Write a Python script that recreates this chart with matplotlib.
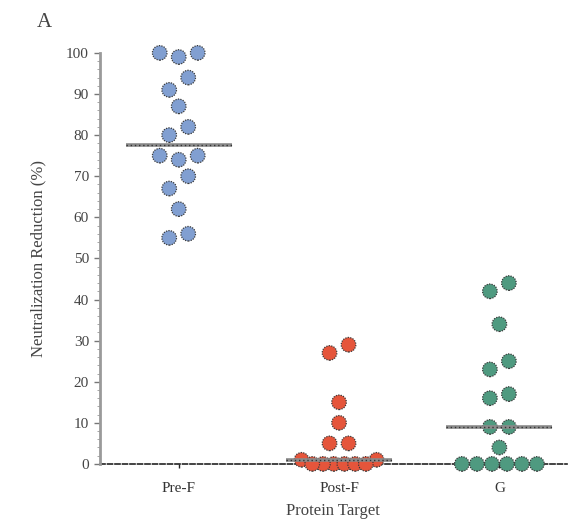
import numpy as np
import matplotlib.pyplot as plt
from matplotlib.ticker import MultipleLocator

# Data
categories = ['Pre-F', 'Post-F', 'G']
pre_f = [100, 100, 99, 94, 91, 87, 82, 80, 75, 75, 74, 70, 67, 62, 56, 55]
post_f = [29, 27, 15, 10, 5, 5, 1, 1, 0, 0, 0, 0, 0, 0]
g_vals = [44, 42, 34, 25, 23, 17, 16, 9, 9, 4, 0, 0, 0, 0, 0, 0]
colors = ['#819fd1', '#e5553b', '#4f9a80']

plt.rcParams['font.family'] = ['Liberation Serif', 'DejaVu Serif']

fig = plt.figure(figsize=(5.69, 5.29), dpi=100)
ax = fig.add_axes([0.176, 0.123, 0.82, 0.777])
xlim = (-0.49, 2.42)
ylim = (0, 100)
ax.set_xlim(*xlim)
ax.set_ylim(*ylim)

# pixel scale for the row layout
px_x = 0.82 * 569 / (xlim[1] - xlim[0])


def row_layout(values, thresh=3.6):
    """Group near-equal values into rows and spread each row around the centre."""
    values = np.asarray(values, dtype=float)
    order = np.argsort(-values, kind='stable')
    rows, cur = [], [order[0]]
    for i in order[1:]:
        if values[cur[0]] - values[i] < thresh:
            cur.append(i)
        else:
            rows.append(cur)
            cur = [i]
    rows.append(cur)
    offs = np.zeros(len(values))
    for r in rows:
        n = len(r)
        if n == 1:
            continue
        step = min(19.0, 75.0 / (n - 1))
        slots = (np.arange(n) - (n - 1) / 2) * step
        # inner slots go to the lowest values, outer ones to the highest
        slots = slots[np.argsort(np.abs(slots), kind='stable')]
        r_sorted = sorted(r, key=lambda j: values[j])
        for j, s in zip(r_sorted, slots):
            offs[j] = s
    return offs / px_x


for i, vals in enumerate([pre_f, post_f, g_vals]):
    vals = np.array(vals, dtype=float)
    xs = i + row_layout(vals)
    ax.scatter(xs, vals, s=110, color=colors[i], edgecolors='#3a3a3a',
               linewidths=0.9, linestyle=(0, (1, 1)), zorder=3, clip_on=False)
    med = np.median(vals)
    ax.plot([i - 0.33, i + 0.33], [med, med], color='#8a8a8a', lw=2.6,
            zorder=4, solid_capstyle='butt')
    ax.plot([i - 0.33, i + 0.33], [med, med], color='#333333', lw=1.0,
            linestyle=(0, (1, 2)), zorder=4)

for side in ['top', 'right']:
    ax.spines[side].set_visible(False)
ax.spines['left'].set_color('#9a9a9a')
ax.spines['left'].set_linewidth(2)
ax.spines['bottom'].set_color('#222222')
ax.spines['bottom'].set_linewidth(1.2)
ax.spines['bottom'].set_linestyle((0, (3, 1.5)))
ax.spines['bottom'].set_zorder(2)

ax.yaxis.set_major_locator(MultipleLocator(10))
ax.yaxis.set_minor_locator(MultipleLocator(2))
ax.tick_params(axis='y', which='major', length=4, width=1, color='#777777',
               labelsize=11, labelcolor='#444444', pad=4)
ax.tick_params(axis='y', which='minor', length=2, width=0.6, color='#999999')
ax.set_xticks(range(len(categories)))
ax.set_xticklabels(categories)
ax.tick_params(axis='x', length=3, width=1, color='#222222', labelsize=11,
               labelcolor='#333333', pad=10)

ax.set_ylabel('Neutralization Reduction (%)', fontsize=12, color='#444444', labelpad=14)
ax.set_xlabel('Protein Target', fontsize=12, color='#444444', labelpad=6)
fig.text(0.065, 0.958, 'A', fontsize=15, color='#444444', ha='left', va='center')

fig.savefig('out.png', dpi=100, facecolor='white')
